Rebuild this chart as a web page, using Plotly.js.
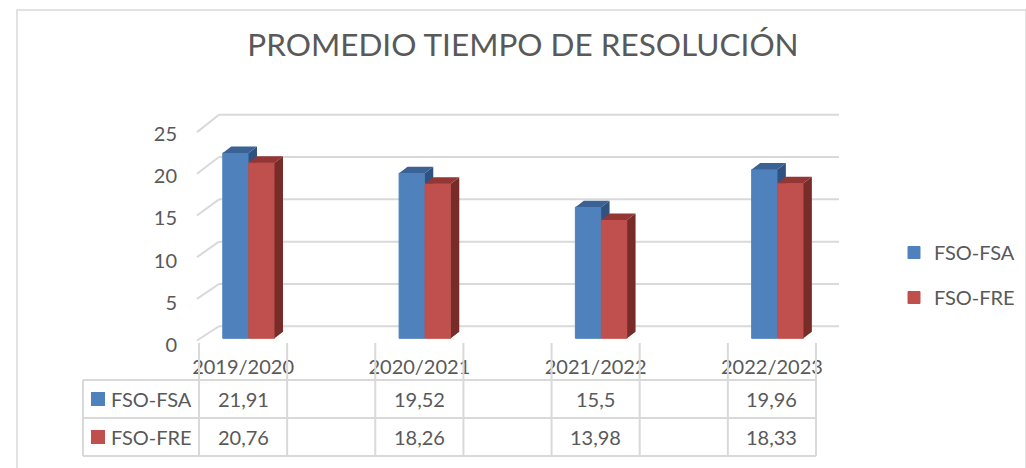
<!DOCTYPE html>
<html><head><meta charset="utf-8">
<script src="https://cdn.plot.ly/plotly-3.0.1.min.js"></script>
<style>html,body{margin:0;padding:0;background:#fff;overflow:hidden;width:1026px;height:468px;} #chart{width:1026px;height:468px;}</style>
</head><body><div id="chart"></div>
<script>
// ---------- data ----------
const chartTitle = "PROMEDIO TIEMPO DE RESOLUCIÓN";
const categories = ["2019/2020", "", "2020/2021", "", "2021/2022", "", "2022/2023"];
const seriesNames = ["FSO-FSA", "FSO-FRE"];
const fsoFsa = [21.91, null, 19.52, null, 15.5, null, 19.96];
const fsoFre = [20.76, null, 18.26, null, 13.98, null, 18.33];
const yTicks = [0, 5, 10, 15, 20, 25];

// ---------- geometry / style ----------
const W = 1026, H = 468;
const M = {l: 193, r: 181, t: 108, b: 120, autoexpand: false};
const PW = W - M.l - M.r, PH = H - M.t - M.b;
const xRange = [-0.568, 6.829];
const yRange = [-1.147, 27.22];
const pxX = px => (px - M.l) / PW;              // pixel -> paper x
const pxY = py => (H - M.b - py) / PH;          // pixel -> paper y
const dX = x => (x - xRange[0]) / (xRange[1] - xRange[0]); // data x -> paper x

const DX = 0.096, DY = 0.77;       // 3D depth offsets
const BAR_W = 0.292;
const OFFS = [-0.23, 0.065];
const COLORS = [
  {front: '#4F81BD', top: '#3A6294', side: '#2F5280'},
  {front: '#C0504D', top: '#943634', side: '#772C2A'}
];
const TXT = '#595959';
const GRID = '#D9D9D9';
const FONT = 'Lato, "Open Sans", sans-serif';
const xIdx = categories.map((_, i) => i);
const seriesVals = [fsoFsa, fsoFre];

// ---------- traces ----------
const traces = [];
seriesVals.forEach((vals, s) => {
  const c = COLORS[s];
  const xa = s === 0 ? 'x' : 'x2', ya = s === 0 ? 'y' : 'y2';
  const sx = [], sy = [], tx = [], ty = [];
  vals.forEach((v, i) => {
    if (v == null) return;
    const x0 = i + OFFS[s], x1 = x0 + BAR_W;
    sx.push(x1, x1, x1 + DX, x1 + DX, x1, null);
    sy.push(0, v, v + DY, DY, 0, null);
    tx.push(x0, x1, x1 + DX, x0 + DX, x0, null);
    ty.push(v, v, v + DY, v + DY, v, null);
  });
  traces.push({type: 'bar', x: xIdx, y: vals, name: seriesNames[s], xaxis: xa, yaxis: ya,
    width: BAR_W, offset: OFFS[s], legendgroup: 'g' + s,
    marker: {color: c.front, line: {color: c.front, width: 1}}, hoverinfo: 'skip'});
  traces.push({type: 'scatter', x: sx, y: sy, xaxis: xa, yaxis: ya, mode: 'lines', fill: 'toself',
    fillcolor: c.side, line: {width: 0, color: c.side}, showlegend: false, hoverinfo: 'skip'});
  traces.push({type: 'scatter', x: tx, y: ty, xaxis: xa, yaxis: ya, mode: 'lines', fill: 'toself',
    fillcolor: c.top, line: {width: 0, color: c.top}, showlegend: false, hoverinfo: 'skip'});
});

// ---------- shapes ----------
const shapes = [];
// chart border
shapes.push({type: 'rect', xref: 'paper', yref: 'paper', x0: pxX(17), x1: pxX(1026), y0: pxY(10), y1: pxY(470),
  line: {color: GRID, width: 1.5}, layer: 'below'});
// back wall gridlines + left wall diagonals
const BACK_X0 = -0.273, BACK_X1 = 6.761, FRONT_X = -0.523, BACK_DY = 1.42;
yTicks.forEach(v => {
  shapes.push({type: 'line', xref: 'x', yref: 'y', x0: BACK_X0, x1: BACK_X1, y0: v + BACK_DY, y1: v + BACK_DY,
    line: {color: GRID, width: 2}, layer: 'below'});
  shapes.push({type: 'line', xref: 'x', yref: 'y', x0: FRONT_X, x1: BACK_X0, y0: v * 0.985 - 0.26, y1: v + BACK_DY,
    line: {color: GRID, width: 2}, layer: 'below'});
});
// data table frame
const rowLines = [380, 418, 456];
rowLines.forEach(py => {
  shapes.push({type: 'line', xref: 'paper', yref: 'paper', x0: pxX(83), x1: dX(categories.length - 0.5), y0: pxY(py), y1: pxY(py),
    line: {color: GRID, width: 2}});
});
shapes.push({type: 'line', xref: 'paper', yref: 'paper', x0: pxX(83), x1: pxX(83), y0: pxY(380), y1: pxY(456),
  line: {color: GRID, width: 2}});
for (let i = 0; i <= categories.length; i++) {
  shapes.push({type: 'line', xref: 'paper', yref: 'paper', x0: dX(i - 0.5), x1: dX(i - 0.5), y0: pxY(343), y1: pxY(456),
    line: {color: GRID, width: 2}});
}

// ---------- annotations (table text) ----------
const annotations = [];
const rowCenters = [399, 437];
const fmt = v => String(v).replace('.', ',');
seriesVals.forEach((vals, s) => {
  const yc = pxY(rowCenters[s]);
  shapes.push({type: 'rect', xref: 'paper', yref: 'paper', x0: pxX(91), x1: pxX(105), y0: yc - 7 / PH, y1: yc + 7 / PH,
    fillcolor: COLORS[s].front, line: {width: 0}});
  annotations.push({xref: 'paper', yref: 'paper', x: pxX(109), y: yc, xanchor: 'left', yanchor: 'middle',
    text: seriesNames[s], showarrow: false, font: {family: FONT, size: 20, color: TXT}});
  vals.forEach((v, i) => {
    if (v == null) return;
    annotations.push({xref: 'x', yref: 'paper', x: i, y: yc, xanchor: 'center', yanchor: 'middle',
      text: fmt(v), showarrow: false, font: {family: FONT, size: 20, color: TXT}});
  });
});

// ---------- layout ----------
const axBase = {showgrid: false, zeroline: false, showline: false, fixedrange: true, automargin: false};
const layout = {
  width: W, height: H, autosize: false,
  margin: M,
  paper_bgcolor: '#ffffff', plot_bgcolor: 'rgba(0,0,0,0)',
  font: {family: FONT, color: TXT, size: 20},
  title: {text: chartTitle, font: {family: FONT, size: 31.5, color: TXT},
    x: 523 / W, xanchor: 'center', xref: 'container', yref: 'container', y: 1 - 45 / H, yanchor: 'middle'},
  barmode: 'overlay',
  xaxis: Object.assign({}, axBase, {range: xRange, tickmode: 'array', tickvals: xIdx, ticktext: categories,
    ticks: '', tickfont: {family: FONT, size: 20, color: TXT}, ticklabelstandoff: 5}),
  yaxis: Object.assign({}, axBase, {range: yRange, tickmode: 'array', tickvals: yTicks,
    ticks: '', tickfont: {family: FONT, size: 20, color: TXT}, ticklabelstandoff: 15, ticklabelshift: 7}),
  xaxis2: Object.assign({}, axBase, {range: xRange, overlaying: 'x', visible: false}),
  yaxis2: Object.assign({}, axBase, {range: yRange, overlaying: 'y', visible: false}),
  showlegend: true,
  legend: {xref: 'container', yref: 'container', x: 894 / W, xanchor: 'left', y: 1 - 233 / H, yanchor: 'top',
    traceorder: 'grouped', tracegroupgap: 16,
    font: {family: FONT, size: 20, color: TXT}, bgcolor: 'rgba(0,0,0,0)'},
  shapes: shapes,
  annotations: annotations
};

Plotly.newPlot('chart', traces, layout, {staticPlot: true, displayModeBar: false});
</script>
</body></html>
